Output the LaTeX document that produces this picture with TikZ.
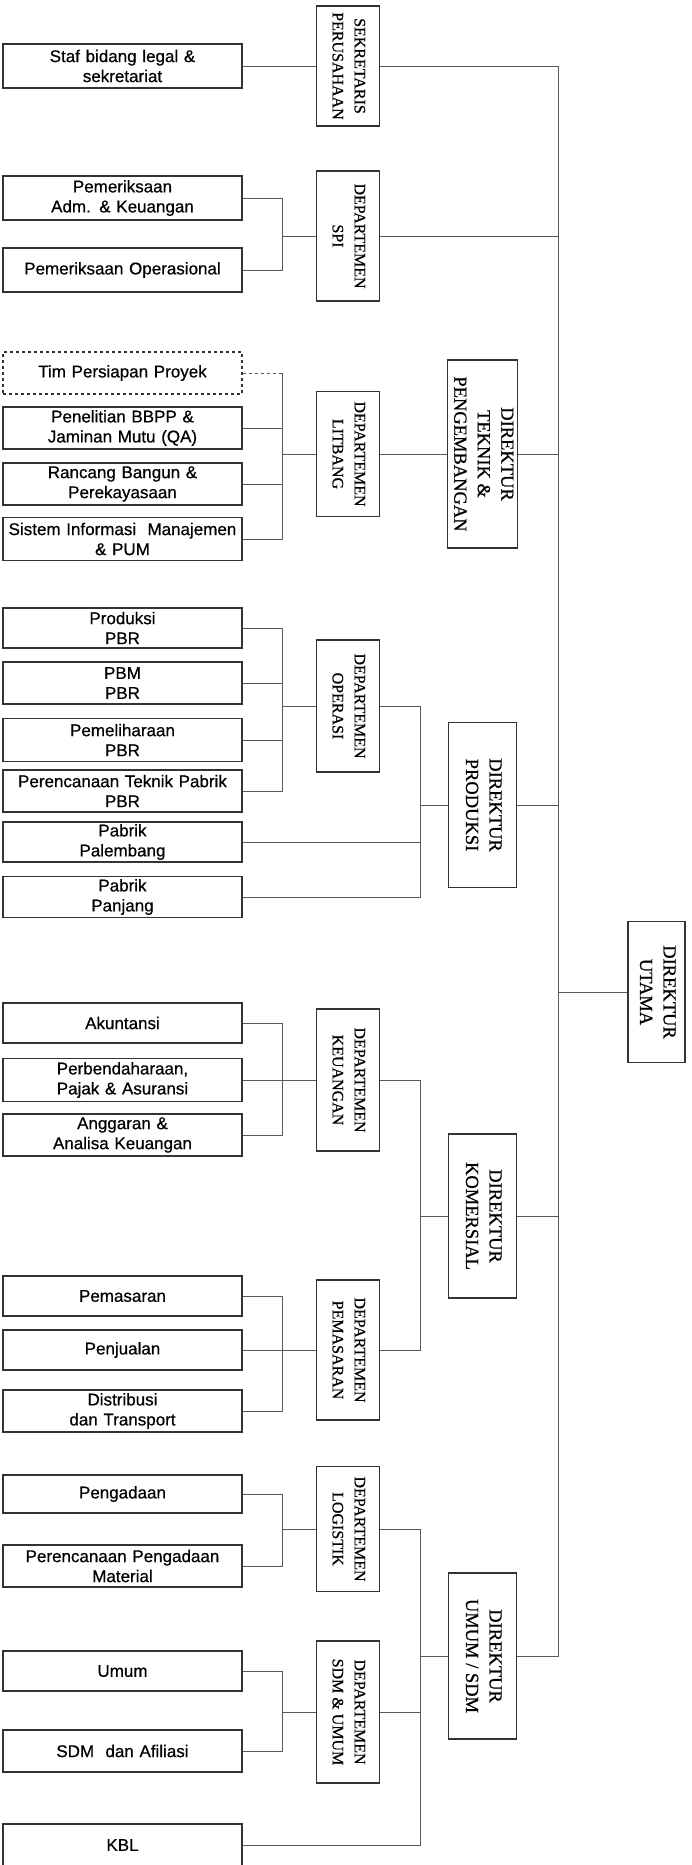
\documentclass[tikz,border=0pt]{standalone}
\usepackage{fontspec}
\setmainfont{Liberation Serif}[FakeBold=0.7]
\setsansfont{Liberation Sans}[FakeBold=0.6]
\usepackage{tikz}
\usetikzlibrary{positioning}

\newcommand{\vlabel}[1]{\rotatebox{-90}{\begin{tabular}{@{}c@{}}#1\end{tabular}}}

\begin{document}
\begin{tikzpicture}
    [%%%%%%%%%%%%%%%%%%%%%%%%%%%%%%
    x=1pt,y=-1pt,
    unit/.style={rectangle,draw=black!80,line width=1.1pt,minimum width=239pt,minimum height=42pt,text width=235pt,align=center,inner sep=0pt,font=\sffamily\fontsize{17}{20}\selectfont},
    dept/.style={rectangle,draw=black!80,line width=1.1pt,minimum width=63pt,inner sep=0pt,font=\fontsize{16}{22}\selectfont},
    dir/.style={rectangle,draw=black!80,line width=1.1pt,minimum width=68pt,inner sep=0pt,font=\fontsize{18.5}{23.5}\selectfont},
    link/.style={draw=black!65,line width=0.9pt},
    ]%%%%%%%%%%%%%%%%%%%%%%%%%%%%%%

    \useasboundingbox (0,0) rectangle (691,1865);

    \coordinate (brA) at (282,0);
    \coordinate (brB) at (420,0);
    \coordinate (trunk) at (558,0);

    % direktur
    \node[dir,minimum height=188pt] at (482.5,454) (dirteknik){\vlabel{DIREKTUR\\TEKNIK \&\\PENGEMBANGAN}};
    \node[dir,minimum height=165pt] at (482.5,805) (dirproduksi){\vlabel{DIREKTUR\\PRODUKSI}};
    \node[dir,minimum height=164pt] at (482.5,1216) (dirkomersial){\vlabel{DIREKTUR\\KOMERSIAL}};
    \node[dir,minimum height=166pt] at (482.5,1656) (dirumum){\vlabel{DIREKTUR\\UMUM / SDM}};
    \node[dir,minimum height=141pt,minimum width=57pt] at (656.5,992) (utama){\vlabel{DIREKTUR\\UTAMA}};

    % sekretaris
    \node[dept,minimum height=120pt] at (348,66) (sek){\vlabel{SEKRETARIS\\PERUSAHAAN}};
    \node[unit,minimum height=44pt] at (122.5,66) (staf){Staf bidang legal \&\\sekretariat};
    \draw[link] (staf.east) -- (sek.west);
    \draw[link] (sek.east) -- (sek.east -| trunk) -- (dirumum.east -| trunk) -- (dirumum.east);

    % spi
    \node[dept,minimum height=130pt] at (348,236) (spi){\vlabel{DEPARTEMEN\\SPI}};
    \node[unit,minimum height=44pt] at (122.5,198) (pemadm){Pemeriksaan\\Adm. \& Keuangan};
    \node[unit,minimum height=44pt] at (122.5,270) (pemop){Pemeriksaan Operasional};
    \draw[link] (pemadm.east) -- (pemadm.east -| brA) -- (pemop.east -| brA) -- (pemop.east);
    \draw[link] (spi.west) -- (spi.west -| brA);
    \draw[link] (spi.east) -- (spi.east -| trunk);

    % litbang
    \node[dept,minimum height=125pt] at (348,454) (litbang){\vlabel{DEPARTEMEN\\LITBANG}};
    \node[unit,dashed] at (122.5,373) (tim){Tim Persiapan Proyek};
    \node[unit] at (122.5,428) (penelitian){Penelitian BBPP \&\\Jaminan Mutu (QA)};
    \node[unit] at (122.5,484) (rancang){Rancang Bangun \&\\Perekayasaan};
    \node[unit,minimum height=43pt] at (122.5,539) (sim){Sistem Informasi\ \ Manajemen\\\& PUM};
    \draw[link,dashed] (tim.east) -- (tim.east -| brA);
    \draw[link] (tim.east -| brA) -- (sim.east -| brA) -- (sim.east);
    \draw[link] (penelitian.east) -- (penelitian.east -| brA);
    \draw[link] (rancang.east) -- (rancang.east -| brA);
    \draw[link] (litbang.west) -- (litbang.west -| brA);
    \draw[link] (litbang.east) -- (dirteknik.west);
    \draw[link] (dirteknik.east) -- (dirteknik.east -| trunk);

    % operasi
    \node[dept,minimum height=132pt] at (348,706) (operasi){\vlabel{DEPARTEMEN\\OPERASI}};
    \node[unit,minimum height=40pt] at (122.5,628) (produksi){Produksi\\PBR};
    \node[unit] at (122.5,683) (pbm){PBM\\PBR};
    \node[unit,minimum height=43pt] at (122.5,740) (pemeliharaan){Pemeliharaan\\PBR};
    \node[unit] at (122.5,791) (tekpabrik){Perencanaan Teknik Pabrik\\PBR};
    \node[unit,minimum height=40pt] at (122.5,842) (palembang){Pabrik\\Palembang};
    \node[unit,minimum height=41pt] at (122.5,897) (panjang){Pabrik\\Panjang};
    \draw[link] (produksi.east) -- (produksi.east -| brA) -- (tekpabrik.east -| brA) -- (tekpabrik.east);
    \draw[link] (pbm.east) -- (pbm.east -| brA);
    \draw[link] (pemeliharaan.east) -- (pemeliharaan.east -| brA);
    \draw[link] (operasi.west) -- (operasi.west -| brA);
    \draw[link] (operasi.east) -- (operasi.east -| brB) -- (panjang.east -| brB) -- (panjang.east);
    \draw[link] (palembang.east) -- (palembang.east -| brB);
    \draw[link] (dirproduksi.west) -- (dirproduksi.west -| brB);
    \draw[link] (dirproduksi.east) -- (dirproduksi.east -| trunk);

    % utama
    \draw[link] (utama.west) -- (utama.west -| trunk);

    % keuangan
    \node[dept,minimum height=142pt] at (348,1080) (keuangan){\vlabel{DEPARTEMEN\\KEUANGAN}};
    \node[unit,minimum height=40pt] at (122.5,1023) (akuntansi){Akuntansi};
    \node[unit,minimum height=43pt] at (122.5,1080) (bendahara){Perbendaharaan,\\Pajak \& Asuransi};
    \node[unit] at (122.5,1135) (anggaran){Anggaran \&\\Analisa Keuangan};
    \draw[link] (akuntansi.east) -- (akuntansi.east -| brA) -- (anggaran.east -| brA) -- (anggaran.east);
    \draw[link] (bendahara.east) -- (keuangan.west);

    % pemasaran
    \node[dept,minimum height=140pt] at (348,1350) (pemdept){\vlabel{DEPARTEMEN\\PEMASARAN}};
    \node[unit,minimum height=40pt] at (122.5,1296) (pemasaran){Pemasaran};
    \node[unit,minimum height=40pt] at (122.5,1350) (penjualan){Penjualan};
    \node[unit] at (122.5,1411) (distribusi){Distribusi\\dan Transport};
    \draw[link] (pemasaran.east) -- (pemasaran.east -| brA) -- (distribusi.east -| brA) -- (distribusi.east);
    \draw[link] (penjualan.east) -- (pemdept.west);
    \draw[link] (keuangan.east) -- (keuangan.east -| brB) -- (pemdept.east -| brB) -- (pemdept.east);
    \draw[link] (dirkomersial.west) -- (dirkomersial.west -| brB);
    \draw[link] (dirkomersial.east) -- (dirkomersial.east -| trunk);

    % logistik
    \node[dept,minimum height=125pt] at (348,1529) (logistik){\vlabel{DEPARTEMEN\\LOGISTIK}};
    \node[unit,minimum height=38pt] at (122.5,1494) (pengadaan){Pengadaan};
    \node[unit] at (122.5,1566) (rencanamat){Perencanaan Pengadaan\\Material};
    \draw[link] (pengadaan.east) -- (pengadaan.east -| brA) -- (rencanamat.east -| brA) -- (rencanamat.east);
    \draw[link] (logistik.west) -- (logistik.west -| brA);

    % sdm
    \node[dept,minimum height=142pt] at (348,1712) (sdmumum){\vlabel{DEPARTEMEN\\SDM \& UMUM}};
    \node[unit,minimum height=40pt] at (122.5,1671) (umum){Umum};
    \node[unit] at (122.5,1751) (afiliasi){SDM\ \ dan Afiliasi};
    \node[unit] at (122.5,1845) (kbl){KBL};
    \draw[link] (umum.east) -- (umum.east -| brA) -- (afiliasi.east -| brA) -- (afiliasi.east);
    \draw[link] (sdmumum.west) -- (sdmumum.west -| brA);
    \draw[link] (logistik.east) -- (logistik.east -| brB) -- (kbl.east -| brB) -- (kbl.east);
    \draw[link] (sdmumum.east) -- (sdmumum.east -| brB);
    \draw[link] (dirumum.west) -- (dirumum.west -| brB);

\end{tikzpicture}
\end{document}
